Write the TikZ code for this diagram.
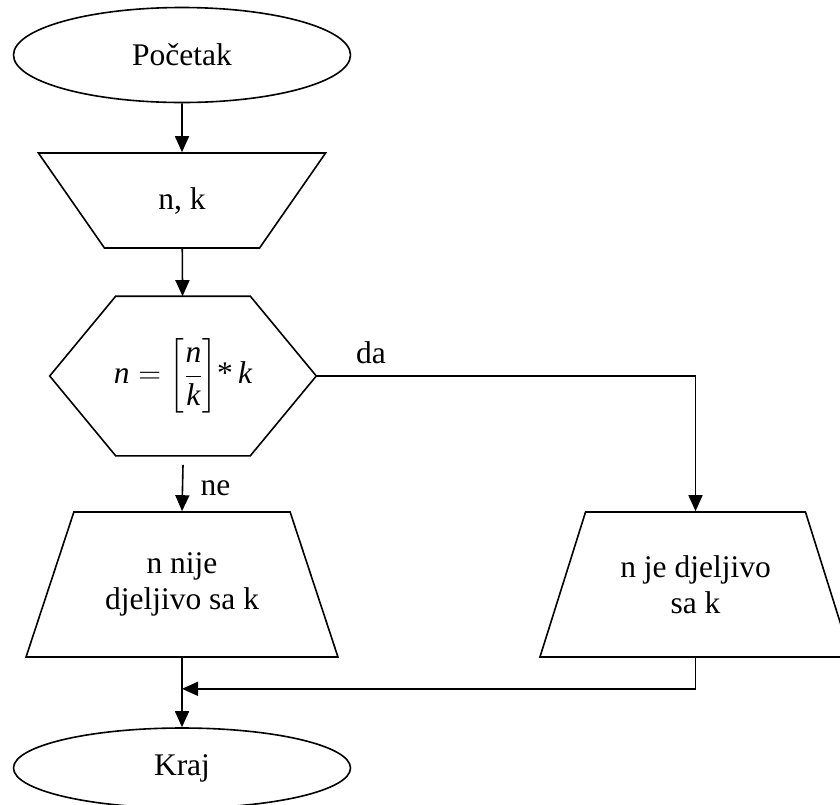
\RequirePackage{fix-cm}
\documentclass[tikz,border=0pt]{standalone}
\usepackage{amsmath}
\usepackage{fontspec}
\setmainfont{Liberation Serif}
\usepackage{tikz}
\usetikzlibrary{arrows.meta,shapes.geometric,positioning}

\begin{document}
\begin{tikzpicture}[x=1pt,y=-1pt,>={Triangle[length=16pt,width=14pt]},
  line width=1.6pt,
  font=\fontsize{31.5}{36.5}\selectfont,
  terminal/.style={ellipse,draw,minimum width=337pt,inner sep=0pt},
  unosbox/.style={trapezium,draw,trapezium stretches=true,
    trapezium left angle=127,trapezium right angle=127,
    minimum width=288pt,minimum height=95pt,inner sep=0pt},
  izlazbox/.style={trapezium,draw,trapezium stretches=true,
    trapezium left angle=62,trapezium right angle=62,
    minimum width=312pt,minimum height=145pt,inner sep=0pt,align=center},
  tok/.style={->}]
  \useasboundingbox (0,0) rectangle (840,804);
  \clip (0,0) rectangle (840,804);

  \node[terminal,minimum height=95pt] (pocetak) at (182,55) {Početak};
  \node[unosbox] (unos) at (182,200.5) {n, k};

  % uslov: sestougao oko praznog pravougaonika
  \node[minimum width=265pt,minimum height=158pt,inner sep=0pt] (uslov) at (183,376)
    {$\textit{n}=\biggl[\dfrac{\textit{n}}{\textit{k}}\biggr]\textrm{*}\,\textit{k}$};
  \draw (uslov.west) -- ([xshift=66pt]uslov.north west) -- ([xshift=-66pt]uslov.north east)
    -- (uslov.east) -- ([xshift=-66pt]uslov.south east) -- ([xshift=66pt]uslov.south west) -- cycle;

  \node[izlazbox] (nije) at (182,584.5) {n nije\\djeljivo sa k};
  \node[izlazbox] (jeste) at (695.5,584.5) {n je djeljivo\\sa k};
  \node[terminal,minimum height=80pt] (kraj) at (182,768) {Kraj};

  \coordinate (spoj) at ([yshift=-31pt]nije.south);
  \node[anchor=south west,inner sep=0pt] (da) at ([xshift=39pt,yshift=11pt]uslov.east) {da};

  \draw[tok] (pocetak) -- (unos);
  \draw[tok] (unos) -- (uslov);
  \draw[tok] ([yshift=-9pt]uslov.south) -- node[right,xshift=14pt] (ne) {ne} (nije.north);
  \draw[tok] (uslov.east) -| (jeste.north);
  \draw[tok] (jeste.south) |- (spoj);
  \draw[tok] (nije) -- (kraj);
\end{tikzpicture}
\end{document}
